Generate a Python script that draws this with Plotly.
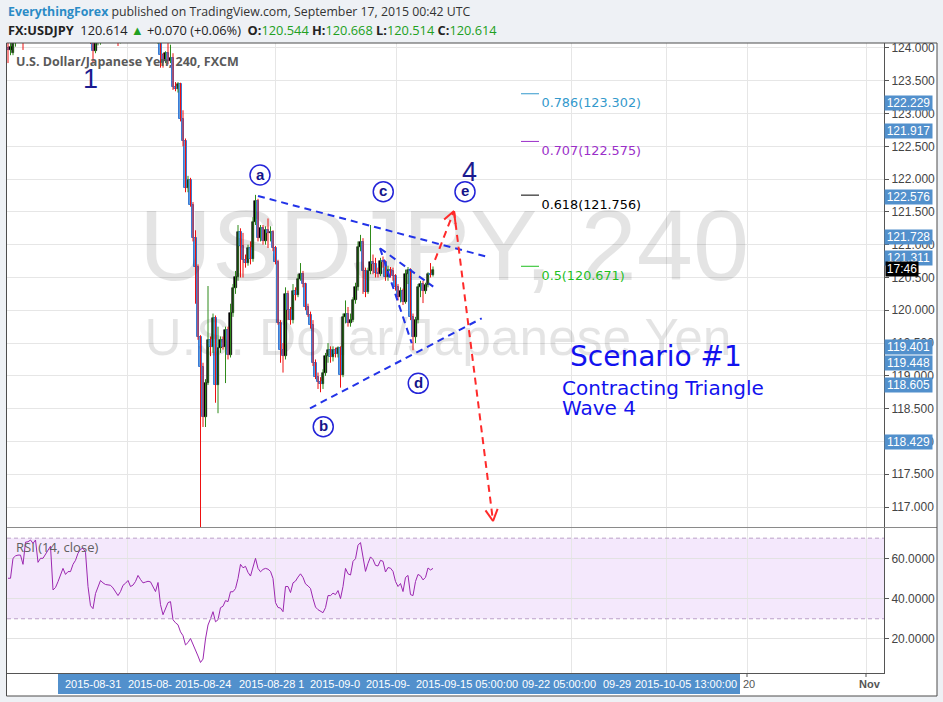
import math
import plotly.graph_objects as go

# ---------------- data (USDJPY 4h candles) ----------------
opens = [124.00, 123.97, 123.92, 124.08, 124.20, 124.28, 124.25, 124.18, 124.40, 124.45,
         124.52, 124.48, 124.58, 124.40, 124.45, 124.44, 124.50, 124.56, 124.62, 124.30,
         124.32, 124.38, 124.44, 124.50, 124.45, 124.48, 124.47, 124.53, 124.58, 124.66,
         124.72, 124.74, 124.70, 124.35, 124.10, 123.95, 124.08, 124.15, 124.25, 124.22,
         124.20, 124.21, 124.20, 124.18, 124.15, 124.10, 124.14, 124.20, 124.22, 124.26,
         124.20, 124.21, 124.24, 124.30, 124.26, 124.22, 124.23, 124.24, 124.23, 124.18,
         124.14, 124.20, 123.89, 123.80, 123.92, 123.80, 123.85, 123.40, 123.38, 123.45,
         122.92, 122.58, 121.86, 121.99, 121.61, 121.10, 120.66, 119.59, 119.13, 118.37,
         118.89, 119.55, 119.44, 119.88, 118.86, 119.42, 119.55, 119.44, 119.70, 119.32,
         119.96, 120.34, 120.51, 121.19, 120.98, 120.77, 120.72, 120.95, 120.78, 121.35,
         121.66, 121.10, 121.25, 121.05, 121.22, 121.18, 121.20, 120.95, 120.74, 119.81,
         119.40, 119.30, 120.25, 120.00, 119.85, 120.30, 120.23, 120.48, 120.56, 120.40,
         120.05, 119.93, 119.78, 119.20, 118.98, 118.90, 118.88, 119.04, 119.30, 119.40,
         119.28, 119.40, 119.33, 119.42, 119.02, 119.90, 119.95, 119.80, 119.85, 120.15,
         120.36, 120.96, 121.04, 120.60, 120.28, 120.60, 120.74, 120.70, 120.57, 120.56,
         120.75, 120.74, 120.50, 120.62, 120.60, 120.52, 120.35, 120.20, 120.30, 120.12,
         120.55, 120.62, 119.90, 119.60, 119.85, 120.36, 120.40, 120.30, 120.38, 120.55,
         120.544]
highs = [124.10, 124.12, 124.20, 124.30, 124.32, 124.33, 124.30, 124.45, 124.50, 124.56,
         124.55, 124.62, 124.60, 124.48, 124.49, 124.53, 124.59, 124.66, 124.64, 124.36,
         124.41, 124.47, 124.54, 124.52, 124.51, 124.51, 124.57, 124.61, 124.69, 124.76,
         124.78, 124.77, 124.72, 124.38, 124.15, 124.12, 124.18, 124.28, 124.29, 124.26,
         124.25, 124.24, 124.23, 124.21, 124.19, 124.17, 124.24, 124.26, 124.30, 124.28,
         124.25, 124.28, 124.34, 124.33, 124.29, 124.27, 124.28, 124.27, 124.25, 124.21,
         124.24, 124.25, 123.92, 123.95, 124.08, 124.05, 123.92, 123.48, 123.48, 123.47,
         123.05, 122.62, 122.05, 122.02, 121.65, 121.22, 120.70, 119.62, 119.20, 118.95,
         120.37, 119.60, 119.95, 119.92, 119.75, 119.60, 119.60, 119.75, 119.75, 120.10,
         120.40, 120.60, 121.30, 121.25, 121.18, 120.85, 121.00, 121.05, 121.42, 121.76,
         121.70, 121.30, 121.30, 121.28, 121.40, 121.28, 121.22, 120.98, 120.77, 119.85,
         119.50, 120.35, 120.30, 120.05, 120.40, 120.35, 120.55, 120.72, 120.60, 120.42,
         120.10, 119.98, 119.85, 119.25, 119.05, 118.98, 119.10, 119.35, 119.50, 119.45,
         119.45, 119.43, 119.45, 119.45, 119.95, 120.15, 120.05, 119.95, 120.20, 120.42,
         121.05, 121.15, 121.10, 120.65, 120.65, 121.30, 120.85, 120.80, 120.65, 120.80,
         120.82, 120.76, 120.68, 120.66, 120.65, 120.55, 120.40, 120.35, 120.33, 120.62,
         120.66, 120.64, 119.95, 119.90, 120.40, 120.45, 120.45, 120.42, 120.58, 120.72,
         120.668]
lows = [123.77, 123.89, 123.89, 124.02, 124.15, 124.20, 123.97, 124.15, 124.35, 124.40,
        124.44, 124.45, 124.36, 124.35, 124.40, 124.41, 124.47, 124.52, 124.26, 124.24,
        124.28, 124.34, 124.40, 124.41, 124.42, 124.43, 124.44, 124.50, 124.55, 124.62,
        124.68, 124.66, 124.31, 124.06, 123.77, 123.92, 124.04, 124.05, 124.18, 124.16,
        124.16, 124.15, 124.14, 124.11, 124.03, 124.07, 124.11, 124.17, 124.19, 124.16,
        124.17, 124.18, 124.21, 124.22, 124.18, 124.19, 124.20, 124.19, 124.14, 124.10,
        124.06, 123.70, 123.70, 123.77, 123.75, 123.77, 123.36, 123.34, 123.32, 122.88,
        122.50, 121.80, 121.80, 121.58, 121.05, 120.10, 119.55, 116.10, 118.22, 118.22,
        118.86, 119.30, 119.35, 118.59, 118.43, 119.35, 119.40, 118.89, 119.25, 119.28,
        119.90, 120.25, 120.45, 120.50, 120.50, 120.65, 120.68, 120.70, 120.74, 121.30,
        121.05, 121.05, 121.00, 121.00, 120.95, 121.05, 120.90, 120.70, 119.78, 119.20,
        119.05, 119.25, 119.85, 119.78, 119.80, 120.15, 120.20, 120.45, 120.35, 120.00,
        119.90, 119.72, 119.15, 118.95, 118.80, 118.75, 118.80, 119.00, 119.20, 119.20,
        119.22, 119.28, 119.28, 118.82, 118.98, 119.80, 119.75, 119.75, 119.82, 120.10,
        120.30, 120.90, 120.25, 120.20, 120.25, 120.55, 120.55, 120.50, 120.50, 120.52,
        120.65, 120.45, 120.45, 120.50, 120.45, 120.30, 120.15, 120.12, 120.08, 120.10,
        120.40, 119.85, 119.39, 119.50, 119.80, 120.20, 120.11, 120.25, 120.35, 120.50,
        120.514]
closes = [123.97, 124.02, 124.08, 124.20, 124.28, 124.25, 124.18, 124.40, 124.45, 124.52,
          124.48, 124.58, 124.40, 124.45, 124.44, 124.50, 124.56, 124.62, 124.30, 124.32,
          124.38, 124.44, 124.50, 124.45, 124.48, 124.47, 124.53, 124.58, 124.66, 124.72,
          124.74, 124.70, 124.35, 124.10, 123.95, 124.08, 124.15, 124.25, 124.22, 124.20,
          124.21, 124.20, 124.18, 124.15, 124.10, 124.14, 124.20, 124.22, 124.26, 124.20,
          124.21, 124.24, 124.30, 124.26, 124.22, 124.23, 124.24, 124.23, 124.18, 124.14,
          124.20, 123.89, 123.77, 123.92, 123.80, 123.85, 123.40, 123.38, 123.45, 122.92,
          122.58, 121.86, 121.99, 121.61, 121.10, 120.66, 119.59, 119.13, 118.37, 118.89,
          119.55, 119.44, 119.88, 118.86, 119.42, 119.55, 119.44, 119.70, 119.32, 119.96,
          120.34, 120.51, 121.19, 120.98, 120.77, 120.72, 120.95, 120.78, 121.35, 121.66,
          121.10, 121.25, 121.05, 121.22, 121.18, 121.20, 120.95, 120.74, 119.81, 119.40,
          119.30, 120.25, 120.00, 119.85, 120.30, 120.23, 120.48, 120.56, 120.40, 120.05,
          119.93, 119.78, 119.20, 118.98, 118.90, 118.88, 119.04, 119.30, 119.40, 119.28,
          119.40, 119.33, 119.42, 119.02, 119.90, 119.95, 119.80, 119.85, 120.15, 120.36,
          120.96, 121.04, 120.60, 120.28, 120.60, 120.74, 120.70, 120.57, 120.56, 120.75,
          120.74, 120.50, 120.62, 120.60, 120.52, 120.35, 120.20, 120.30, 120.12, 120.55,
          120.62, 119.90, 119.60, 119.85, 120.36, 120.40, 120.30, 120.38, 120.55, 120.544,
          120.614]
rsi_values = [50.1, 50.1, 60.0, 61.2, 61.6, 61.6, 57.0, 68.0, 68.2, 69.1,
              67.4, 69.1, 58.0, 60.0, 60.0, 62.2, 64.0, 66.0, 44.3, 45.5,
              48.4, 52.0, 55.0, 52.0, 53.4, 53.4, 57.0, 59.0, 62.5, 64.5,
              65.0, 63.0, 46.0, 36.5, 35.0, 42.5, 45.5, 49.0, 47.8, 47.0,
              46.8, 46.6, 45.3, 43.5, 41.5, 43.5, 46.6, 47.6, 49.0, 46.0,
              46.7, 48.5, 51.5, 49.5, 47.8, 48.2, 48.6, 48.3, 45.5, 43.5,
              48.0, 37.0, 32.0, 35.5, 38.0, 38.5, 29.5, 28.0, 27.0, 23.5,
              21.6, 17.0, 18.2, 20.2, 17.5, 14.0, 11.5, 8.3, 10.0, 20.0,
              26.9, 30.0, 33.5, 28.5, 29.5, 35.5, 36.2, 39.0, 38.5, 43.4,
              43.4, 45.0, 50.0, 57.0, 55.3, 56.0, 53.0, 51.2, 55.0, 60.0,
              55.0, 53.3, 54.5, 55.0, 54.6, 53.5, 50.0, 38.0, 35.6, 35.3,
              33.5, 46.0, 46.0, 43.0, 47.8, 48.7, 50.7, 52.3, 50.5, 47.3,
              46.3, 45.0, 40.0, 35.8, 34.5, 33.9, 33.0, 35.5, 41.5, 41.5,
              42.7, 42.0, 44.0, 40.0, 46.0, 55.0, 52.3, 51.7, 58.5, 59.8,
              66.5, 67.8, 61.0, 53.5, 57.5, 60.7, 59.4, 56.5, 56.2, 59.0,
              58.5, 53.2, 55.4, 55.1, 53.5, 48.5, 46.0, 47.5, 43.5, 50.5,
              51.5, 42.0, 41.5, 48.5, 52.0, 51.3, 49.3, 50.5, 55.2, 54.2,
              55.0]

grid_positions = [47.9, 107.1, 155.5, 225.5, 263.5, 295.9, 343.5]

fib_levels = ["0.5", "0.618", "0.707", "0.786", "0.886"]
fib_prices = [120.671, 121.756, 122.575, 123.302, 124.221]
fib_colors = ["#1fbf1f", "#000000", "#9b2fc9", "#3399cc", "#e02a2a"]
fib_seg = [205.2, 212.4]
fib_text_x = 213.4

tag_texts = ["122.229", "121.917", "122.576", "121.728", "121.311",
             "119.401", "119.448", "118.605", "118.429"]
tag_prices = [123.161, 122.734, 121.728, 121.118, 120.797,
              119.440, 119.196, 118.860, 117.991]

wave_letters = ["a", "b", "c", "d", "e"]
wave_x = [100.8, 126.1, 150.1, 164.1, 182.8]
wave_y = [122.063, 118.225, 121.808, 118.886, 121.808]

big_labels = ["1", "4"]
big_x = [32.8, 184.4]
big_y = [123.527, 122.109]

# trend lines (index, price)
blue_lines = [((100.0, 121.743), (192.0, 120.813)),
              ((120.8, 118.505), (189.5, 119.878)),
              ((148.8, 120.946), (170.1, 120.360)),
              ((148.8, 120.946), (161.5, 119.497))]
red_path = [(170.8, 120.767), (178.4, 121.514), (194.0, 116.786)]

time_labels = ["2015-08-31", "2015-08-", "2015-08-24", "2015-08-28 1", "2015-09-0",
               "2015-09-", "2015-09-15 05:00:00", "09-22 05:00:00", "09-29",
               "2015-10-05 13:00:00"]
time_label_left = [63, 126, 173, 237, 308, 364, 414, 520, 601, 633]

# ---------------- geometry ----------------
W, H = 943, 702
L, R, T, B = 7, 59, 43, 29
PW = W - L - R
PH = H - T - B
X_RANGE = [-0.4, 350.4]
Y_RANGE = [116.695, 124.076]
RSI_RANGE = [3.08, 75.04]
MAIN_DOM = [(H - B - 527) / PH, 1.0]
RSI_DOM = [0.0, (H - B - 528) / PH]
PPX = PW / (X_RANGE[1] - X_RANGE[0])
PPY = PH * (MAIN_DOM[1] - MAIN_DOM[0]) / (Y_RANGE[1] - Y_RANGE[0])


def px(xp):
    return (xp - L) / PW


def py(yp):
    return (H - B - yp) / PH


idx = list(range(len(closes)))

fig = go.Figure()

# watermark
fig.add_trace(go.Scatter(x=[174.4], y=[120.843], mode="text", text=["USDJPY, 240"],
                         textfont=dict(size=101, color="rgba(0,0,0,0.105)", family="Arial"),
                         hoverinfo="skip", showlegend=False, cliponaxis=False))
fig.add_trace(go.Scatter(x=[172.0], y=[119.516], mode="text", text=["U.S. Dollar/Japanese Yen"],
                         textfont=dict(size=51.5, color="rgba(0,0,0,0.105)", family="Arial"),
                         hoverinfo="skip", showlegend=False, cliponaxis=False))

# wicks
ux, uy, dx, dy = [], [], [], []
for i in idx:
    if closes[i] >= opens[i]:
        ux += [i, i, None]
        uy += [lows[i], highs[i], None]
    else:
        dx += [i, i, None]
        dy += [lows[i], highs[i], None]
fig.add_trace(go.Scatter(x=ux, y=uy, mode="lines", line=dict(color="#2f8a1a", width=1),
                         hoverinfo="skip", showlegend=False))
fig.add_trace(go.Scatter(x=dx, y=dy, mode="lines", line=dict(color="#ee1111", width=1),
                         hoverinfo="skip", showlegend=False))

# bodies
bu_x, bu_b, bu_h, bd_x, bd_b, bd_h = [], [], [], [], [], []
for i in idx:
    lo = min(opens[i], closes[i])
    hgt = max(abs(closes[i] - opens[i]), 0.012)
    if closes[i] >= opens[i]:
        bu_x.append(i); bu_b.append(lo); bu_h.append(hgt)
    else:
        bd_x.append(i); bd_b.append(lo); bd_h.append(hgt)
fig.add_trace(go.Bar(x=bu_x, y=bu_h, base=bu_b, width=1.0,
                     marker=dict(color="#000000", line=dict(color="#000000", width=0.6)),
                     hoverinfo="skip", showlegend=False))
fig.add_trace(go.Bar(x=bd_x, y=bd_h, base=bd_b, width=1.0,
                     marker=dict(color="#5c9ce0", line=dict(color="#3a7bd5", width=1)),
                     hoverinfo="skip", showlegend=False))

# fib texts (a few pixels below each level line)
fig.add_trace(go.Scatter(x=[fib_text_x] * len(fib_prices), y=[p - 4 / PPY for p in fib_prices],
                         mode="text",
                         text=[f"{l}({p:.3f})" for l, p in zip(fib_levels, fib_prices)],
                         textposition="bottom right",
                         textfont=dict(size=12.8, color=fib_colors, family="DejaVu Sans"),
                         hoverinfo="skip", showlegend=False, cliponaxis=True))

# RSI
fig.add_trace(go.Scatter(x=idx, y=rsi_values, mode="lines", xaxis="x2", yaxis="y2",
                         line=dict(color="#9c27b0", width=1), hoverinfo="skip", showlegend=False))

shapes = []
shapes.append(dict(type="rect", xref="paper", yref="paper", x0=1.0, x1=px(937), y0=py(696), y1=1.0,
                   fillcolor="white", line=dict(width=0), layer="below"))
shapes.append(dict(type="rect", xref="paper", yref="paper", x0=0, x1=1.0, y0=py(696), y1=0,
                   fillcolor="white", line=dict(width=0), layer="below"))
shapes.append(dict(type="rect", xref="paper", yref="y2", x0=0, x1=1, y0=30, y1=70,
                   fillcolor="rgba(190,120,240,0.17)", line=dict(width=0), layer="below"))
for lvl in (30, 70):
    shapes.append(dict(type="line", xref="paper", yref="y2", x0=0, x1=1, y0=lvl, y1=lvl,
                       line=dict(color="#bba0c8", width=1, dash="4px,3px"), layer="above"))
shapes.append(dict(type="line", xref="paper", yref="paper", x0=0, x1=px(937),
                   y0=py(527.5), y1=py(527.5), line=dict(color="#8a8a8a", width=1)))
for p, c in zip(fib_prices, fib_colors):
    shapes.append(dict(type="line", xref="x", yref="y", x0=fib_seg[0], x1=fib_seg[1], y0=p, y1=p,
                       line=dict(color=c, width=1)))
for (a, b) in blue_lines:
    shapes.append(dict(type="line", xref="x", yref="y", x0=a[0], y0=a[1], x1=b[0], y1=b[1],
                       line=dict(color="#2233e8", width=2, dash="7px,5px")))
for k in range(len(red_path) - 1):
    a, b = red_path[k], red_path[k + 1]
    shapes.append(dict(type="line", xref="x", yref="y", x0=a[0], y0=a[1], x1=b[0], y1=b[1],
                       line=dict(color="#ff2a2a", width=2, dash="7px,5px")))
    vx = (b[0] - a[0]) * PPX
    vy = (b[1] - a[1]) * PPY
    n = math.hypot(vx, vy)
    bx, by = -vx / n, -vy / n
    for ang in (math.radians(28), math.radians(-28)):
        rx = bx * math.cos(ang) - by * math.sin(ang)
        ry = bx * math.sin(ang) + by * math.cos(ang)
        shapes.append(dict(type="line", xref="x", yref="y", xsizemode="pixel", ysizemode="pixel",
                           xanchor=b[0], yanchor=b[1], x0=0, y0=0, x1=rx * 13, y1=ry * 13,
                           line=dict(color="#ff2a2a", width=2)))
for wx, wy in zip(wave_x, wave_y):
    shapes.append(dict(type="circle", xref="x", yref="y", xsizemode="pixel", ysizemode="pixel",
                       xanchor=wx, yanchor=wy, x0=-10, x1=10, y0=-10, y1=10,
                       fillcolor="white", line=dict(color="#2424d8", width=1.5)))
shapes.append(dict(type="rect", xref="paper", yref="paper", x0=px(58), x1=px(740),
                   y0=py(694), y1=py(674), fillcolor="#5290cc", line=dict(width=0)))
for tx in (747, 866):
    shapes.append(dict(type="line", xref="paper", yref="paper", x0=px(tx), x1=px(tx),
                       y0=py(673), y1=py(677), line=dict(color="#555", width=1)))
shapes.append(dict(type="rect", xref="paper", yref="paper", x0=px(6.5), x1=px(937),
                   y0=py(696), y1=1.0, line=dict(color="#4d4d4d", width=1), fillcolor="rgba(0,0,0,0)"))

ann = []
last = len(closes) - 1
ann.append(dict(xref="paper", yref="paper", x=px(6), y=py(12), xanchor="left", yanchor="middle",
                showarrow=False,
                text="<span style='color:#2a8bc6'><b>EverythingForex</b></span> published on TradingView.com, September 17, 2015 00:42 UTC",
                font=dict(family="Open Sans", size=12.3, color="#333")))
g = "#21a021"
line2 = (f"<b>FX:USDJPY</b>  {closes[last]:.3f} <span style='color:{g}'>▲</span> +0.070 (+0.06%)  "
         f"<b>O:</b><span style='color:{g}'>{opens[last]:.3f}</span> "
         f"<b>H:</b><span style='color:{g}'>{highs[last]:.3f}</span> "
         f"<b>L:</b><span style='color:{g}'>{lows[last]:.3f}</span> "
         f"<b>C:</b><span style='color:{g}'>{closes[last]:.3f}</span>")
ann.append(dict(xref="paper", yref="paper", x=px(6), y=py(30), xanchor="left", yanchor="middle",
                showarrow=False, text=line2, font=dict(family="Open Sans", size=12.8, color="#222")))
ann.append(dict(xref="paper", yref="paper", x=px(14), y=py(61), xanchor="left", yanchor="middle",
                showarrow=False, text="<b>U.S. Dollar/Japanese Yen, 240, FXCM</b>",
                font=dict(family="Open Sans", size=12.5, color="#5a5a5a")))
ann.append(dict(xref="paper", yref="paper", x=px(14), y=py(547), xanchor="left", yanchor="middle",
                showarrow=False, text="RSI (14, close)",
                font=dict(family="Open Sans", size=13, color="#606060")))
for t, wx, wy in zip(wave_letters, wave_x, wave_y):
    ann.append(dict(xref="x", yref="y", x=wx, y=wy, showarrow=False, text=f"<b>{t}</b>",
                    font=dict(family="Arial", size=15, color="#14148a"), yshift=1))
for t, bx_, by_ in zip(big_labels, big_x, big_y):
    ann.append(dict(xref="x", yref="y", x=bx_, y=by_, showarrow=False, text=t,
                    font=dict(family="Arial", size=27, color="#1b1b90")))
ann.append(dict(xref="paper", yref="paper", x=px(568), y=py(356), xanchor="left", yanchor="middle",
                showarrow=False, text="Scenario #1", font=dict(family="DejaVu Sans", size=28, color="#1212ee")))
ann.append(dict(xref="paper", yref="paper", x=px(560), y=py(388), xanchor="left", yanchor="middle",
                showarrow=False, text="Contracting Triangle",
                font=dict(family="DejaVu Sans", size=20, color="#1212ee")))
ann.append(dict(xref="paper", yref="paper", x=px(560), y=py(408), xanchor="left", yanchor="middle",
                showarrow=False, text="Wave 4",
                font=dict(family="DejaVu Sans", size=20, color="#1212ee")))
for t, p in zip(tag_texts, tag_prices):
    ann.append(dict(xref="paper", yref="y", x=1.0, y=p, xanchor="left", yanchor="middle",
                    showarrow=False, text=t, width=47, height=14, bgcolor="#5290cc", borderpad=0,
                    font=dict(family="Arial", size=12, color="white")))
ann.append(dict(xref="paper", yref="y", x=px(885), y=120.63, xanchor="left", yanchor="middle",
                showarrow=False, text="17:46", width=32, height=14, bgcolor="#000000", borderpad=0,
                font=dict(family="Arial", size=12, color="white")))
for t, lx in zip(time_labels, time_label_left):
    ann.append(dict(xref="paper", yref="paper", x=px(lx), y=py(684), xanchor="left", yanchor="middle",
                    showarrow=False, text=t, font=dict(family="Arial", size=11, color="white")))
ann.append(dict(xref="paper", yref="paper", x=px(741), y=py(684), xanchor="left", yanchor="middle",
                showarrow=False, text="20", font=dict(family="Arial", size=11, color="#555")))
ann.append(dict(xref="paper", yref="paper", x=px(857), y=py(684), xanchor="left", yanchor="middle",
                showarrow=False, text="<b>Nov</b>", font=dict(family="Arial", size=11, color="#555")))

axis_font = dict(family="Arial", size=12, color="#444")
fig.update_layout(
    width=W, height=H, margin=dict(l=L, r=R, t=T, b=B, autoexpand=False),
    paper_bgcolor="#eef1f5", plot_bgcolor="white", barmode="overlay", bargap=0,
    font=dict(family="Open Sans"), showlegend=False,
    xaxis=dict(domain=[0, 1], range=X_RANGE, anchor="y", tickvals=grid_positions,
               showticklabels=False, showgrid=True, gridcolor="#e6e6e6", zeroline=False, ticks=""),
    xaxis2=dict(domain=[0, 1], range=X_RANGE, anchor="y2", tickvals=grid_positions,
                showticklabels=False, showgrid=True, gridcolor="#e6e6e6", zeroline=False, ticks="",
                showline=True, linecolor="#555", linewidth=1),
    yaxis=dict(domain=MAIN_DOM, range=Y_RANGE, anchor="x", side="right", tick0=0, dtick=0.5,
               tickformat=".3f", showgrid=True, gridcolor="#e6e6e6", zeroline=False,
               showline=True, linecolor="#555", ticks="outside", ticklen=4, tickcolor="#555",
               tickfont=axis_font),
    yaxis2=dict(domain=RSI_DOM, range=RSI_RANGE, anchor="x2", side="right", tickvals=[20, 40, 60],
                tickformat=".4f", showgrid=True, gridcolor="#e2e2e2", zeroline=False,
                showline=True, linecolor="#555", ticks="outside", ticklen=4, tickcolor="#555",
                tickfont=axis_font),
    shapes=shapes, annotations=ann,
)

fig.write_html("out.html", config={"displayModeBar": False},
               post_script="document.body.style.margin='0px';document.body.style.overflow='hidden';")
